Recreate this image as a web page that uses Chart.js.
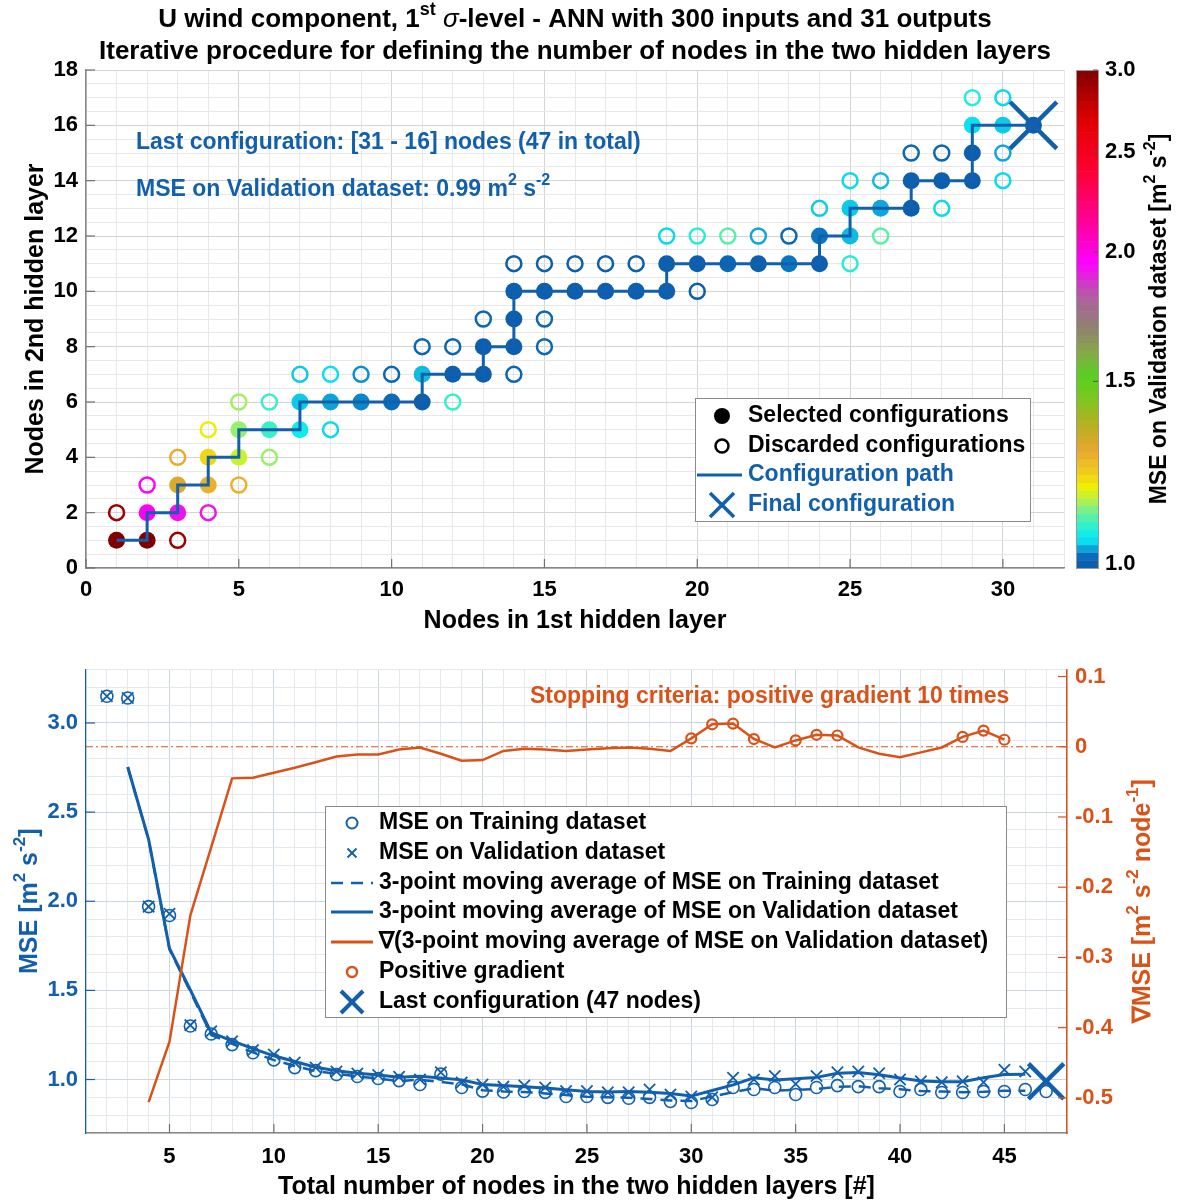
<!DOCTYPE html>
<html>
<head>
<meta charset="utf-8">
<script src="https://cdn.jsdelivr.net/npm/chart.js@4.4.1/dist/chart.umd.min.js"></script>
<style>
  body { margin: 0; background: #fff; }
  canvas { display: block; }
</style>
</head>
<body>
<canvas id="nodesChart" width="1179" height="640"></canvas>
<canvas id="mseChart" width="1179" height="560"></canvas>
<script>
// ---- selected configurations along the path (one per total node count) ----
const totalNodes = [2,3,4,5,6,7,8,9,10,11,12,13,14,15,16,17,18,19,20,21,22,23,24,25,26,27,28,29,30,31,32,33,34,35,36,37,38,39,40,41,42,43,44,45,46,47];
const layer1Sel = [1,2,2,3,3,4,4,5,5,6,7,7,8,9,10,11,11,12,13,13,14,14,14,15,16,17,18,19,19,20,21,22,23,24,24,25,25,26,27,27,28,29,29,29,30,31];
const layer2Sel = [1,1,2,2,3,3,4,4,5,5,5,6,6,6,6,6,7,7,7,8,8,9,10,10,10,10,10,10,11,11,11,11,11,11,12,12,13,13,13,14,14,14,15,16,16,16];
const valMse = [3.15,3.14,1.97,1.93,1.305,1.27,1.215,1.165,1.14,1.095,1.067,1.045,1.034,1.025,1.015,1.0,1.04,0.983,0.972,0.96,0.966,0.955,0.935,0.935,0.928,0.928,0.944,0.916,0.905,0.90,1.01,1.0,1.02,0.975,1.02,1.04,1.045,1.035,1.0,0.99,0.985,0.99,0.985,1.055,1.045,0.99];
const trainMse = [3.15,3.14,1.97,1.92,1.30,1.255,1.196,1.15,1.11,1.067,1.05,1.028,1.017,1.006,0.994,0.972,1.03,0.955,0.935,0.93,0.933,0.928,0.905,0.905,0.90,0.895,0.90,0.877,0.871,0.888,0.955,0.944,0.955,0.916,0.955,0.966,0.96,0.96,0.933,0.944,0.927,0.927,0.933,0.933,0.944,0.933];

// ---- 3-point moving averages and their gradient ----
const maNodes = [3,4,5,6,7,8,9,10,11,12,13,14,15,16,17,18,19,20,21,22,23,24,25,26,27,28,29,30,31,32,33,34,35,36,37,38,39,40,41,42,43,44,45,46];
const trainMseMa = [2.753,2.343,1.730,1.492,1.250,1.200,1.152,1.109,1.076,1.048,1.032,1.017,1.006,0.991,0.999,0.986,0.973,0.940,0.933,0.930,0.922,0.913,0.903,0.900,0.898,0.891,0.883,0.879,0.905,0.929,0.951,0.938,0.942,0.946,0.960,0.962,0.951,0.946,0.935,0.933,0.929,0.931,0.937,0.937];
const valMseMa = [2.753,2.347,1.735,1.502,1.263,1.217,1.173,1.133,1.101,1.069,1.049,1.035,1.025,1.013,1.018,1.008,0.998,0.972,0.966,0.960,0.952,0.942,0.933,0.930,0.933,0.929,0.922,0.907,0.938,0.970,1.010,0.998,1.005,1.012,1.035,1.040,1.027,1.008,0.992,0.988,0.987,1.010,1.028,1.030];
const gradNodes = [4,5,6,7,8,9,10,11,12,13,14,15,16,17,18,19,20,21,22,23,24,25,26,27,28,29,30,31,32,33,34,35,36,37,38,39,40,41,42,43,44,45];
const valMseGrad = [-0.506,-0.42,-0.24,-0.143,-0.045,-0.044,-0.037,-0.030,-0.022,-0.014,-0.011,-0.011,-0.004,-0.001,-0.010,-0.020,-0.019,-0.006,-0.003,-0.004,-0.006,-0.004,-0.002,-0.001,-0.003,-0.006,0.012,0.032,0.033,0.011,-0.001,0.009,0.017,0.016,-0.001,-0.010,-0.015,-0.008,-0.001,0.014,0.023,0.010];

// ---- discarded configurations ----
const discLayer1 = [1,3,2,4,3,5,4,6,5,6,8,7,8,9,10,11,12,13,15,15,14,12,14,15,16,17,18,19,20,20,21,22,23,26,25,24,25,26,28,27,28,30,30,29,30];
const discLayer2 = [2,1,3,2,4,3,5,4,6,6,5,7,7,7,7,8,8,9,9,8,7,6,11,11,11,11,11,12,12,10,12,12,12,12,11,13,14,14,13,15,15,15,14,17,17];
const discMse = [2.9,2.9,1.95,1.92,1.28,1.27,1.19,1.14,1.145,1.09,1.05,1.045,1.055,1.028,1.01,1.01,1.01,1.01,1.01,1.01,1.01,1.09,1.0,1.0,1.0,1.0,1.0,1.05,1.08,1.0,1.11,1.035,1.01,1.11,1.08,1.045,1.05,1.04,1.05,1.01,1.01,1.035,1.05,1.08,1.05];

// ---- tick labels ----
const topXTicks = [0,5,10,15,20,25,30];
const topYTicks = [0,2,4,6,8,10,12,14,16,18];
const cbTicks = [1.0,1.5,2.0,2.5,3.0];
const nodesTicks = [5,10,15,20,25,30,35,40,45];
const mseTicks = [1.0,1.5,2.0,2.5,3.0];
const gradTicks = [-0.5,-0.4,-0.3,-0.2,-0.1,0,0.1];

const BLUE = '#1260ad';
const ORANGE = '#d95319';
const FONT = '"Liberation Sans", Arial, Helvetica, sans-serif';

Chart.defaults.font.family = FONT;
Chart.defaults.font.weight = 'bold';
Chart.defaults.color = '#000';

// colormap of the MSE colour scale (position on a log axis from 1 to 3)
const cmapStops = [
  [0.000, '#0b5fae'], [0.015, '#0a6cba'], [0.022, '#0a84c8'], [0.030, '#0fa0d6'],
  [0.037, '#10c0e4'], [0.045, '#08dcee'], [0.060, '#10ecec'], [0.080, '#38f0c8'],
  [0.100, '#60f0a0'], [0.125, '#a8f058'], [0.155, '#f0f000'], [0.190, '#f0c820'],
  [0.230, '#e8a830'], [0.280, '#b8b020'], [0.340, '#78c820'], [0.380, '#58d020'],
  [0.430, '#88a848'], [0.480, '#908070'], [0.540, '#b060a0'], [0.610, '#ff00ff'],
  [0.700, '#ff0090'], [0.800, '#ff0030'], [0.900, '#e00000'], [1.000, '#800000']
];
function hexRgb(h) { const n = parseInt(h.slice(1), 16); return [n >> 16, (n >> 8) & 255, n & 255]; }
function mseColor(v) {
  const f = Math.min(1, Math.max(0, Math.log(v) / Math.log(3)));
  for (let i = 1; i < cmapStops.length; i++) {
    if (f <= cmapStops[i][0]) {
      const [f0, c0] = cmapStops[i - 1];
      const [f1, c1] = cmapStops[i];
      const t = (f - f0) / (f1 - f0);
      const a = hexRgb(c0), b = hexRgb(c1);
      return 'rgb(' + a.map((x, k) => Math.round(x + (b[k] - x) * t)).join(',') + ')';
    }
  }
  return cmapStops[cmapStops.length - 1][1];
}

function gridTicks(lo, hi, step) {
  const out = [];
  const n = Math.round((hi - lo) / step);
  for (let i = 0; i <= n; i++) out.push({ value: +(lo + i * step).toFixed(4) });
  return out;
}
const isMajor = (v, list) => list.some(m => Math.abs(m - v) < 1e-6);
const sup = t => ({ t, sup: true });

// text with superscripts / italics, optionally rotated
function drawRich(ctx, segs, x, y, o) {
  const size = o.size;
  const parts = segs.map(s => typeof s === 'string' ? { t: s } : s);
  const fontOf = s => (s.it ? 'italic ' : '') + (s.w || 'bold') + ' ' + (s.sup ? Math.round(size * 0.68) : size) + 'px ' + FONT;
  let total = 0;
  parts.forEach(s => { ctx.font = fontOf(s); total += ctx.measureText(s.t).width; });
  ctx.save();
  ctx.translate(x, y);
  if (o.rot) ctx.rotate(o.rot);
  ctx.fillStyle = o.color || '#000';
  ctx.textBaseline = 'middle';
  ctx.textAlign = 'left';
  let cx = o.align === 'center' ? -total / 2 : o.align === 'right' ? -total : 0;
  parts.forEach(s => {
    ctx.font = fontOf(s);
    ctx.fillText(s.t, cx, s.sup ? -size * 0.4 : 0);
    cx += ctx.measureText(s.t).width;
  });
  ctx.restore();
}

function seg(ctx, x1, y1, x2, y2) { ctx.beginPath(); ctx.moveTo(x1, y1); ctx.lineTo(x2, y2); ctx.stroke(); }
function circle(ctx, x, y, r, color, lw, fill) {
  ctx.beginPath(); ctx.arc(x, y, r, 0, Math.PI * 2);
  if (fill) { ctx.fillStyle = color; ctx.fill(); } else { ctx.strokeStyle = color; ctx.lineWidth = lw; ctx.stroke(); }
}
function cross(ctx, x, y, h, color, lw) {
  ctx.strokeStyle = color; ctx.lineWidth = lw;
  seg(ctx, x - h, y - h, x + h, y + h); seg(ctx, x - h, y + h, x + h, y - h);
}
function legendBox(ctx, x, y, w, h) {
  ctx.fillStyle = '#fff'; ctx.fillRect(x, y, w, h);
  ctx.strokeStyle = '#8a8a8a'; ctx.lineWidth = 1; ctx.strokeRect(x + 0.5, y + 0.5, w, h);
}

// ================= top chart: nodes in both hidden layers =================
const selPoints = layer1Sel.map((x, i) => ({ x, y: layer2Sel[i] }));
const discPoints = discLayer1.map((x, i) => ({ x, y: discLayer2[i] }));
const lastSel = selPoints[selPoints.length - 1];
const lastTotal = totalNodes[totalNodes.length - 1];
const lastVal = valMse[valMse.length - 1];

const nodesDecor = {
  id: 'nodesDecor',
  afterDraw(chart) {
    const ctx = chart.ctx, a = chart.chartArea;
    const sx = chart.scales.x, sy = chart.scales.y, cb = chart.scales.cb;
    ctx.save();
    // inward tick marks
    ctx.strokeStyle = '#707070'; ctx.lineWidth = 1.2;
    topYTicks.forEach(v => { const p = sy.getPixelForValue(v); seg(ctx, a.left, p, a.left + 9, p); });
    topXTicks.forEach(v => { const p = sx.getPixelForValue(v); seg(ctx, p, a.bottom, p, a.bottom - 9); });

    // colour bar
    const cx0 = a.right + 12, cw = 22, n = 64;
    const lo = Math.log(cb.min), hi = Math.log(cb.max);
    for (let i = 0; i < n; i++) {
      const y1 = cb.getPixelForValue(Math.exp(lo + (hi - lo) * i / n));
      const y2 = cb.getPixelForValue(Math.exp(lo + (hi - lo) * (i + 1) / n));
      ctx.fillStyle = mseColor(Math.exp(lo + (hi - lo) * (i + 0.5) / n));
      ctx.fillRect(cx0, y2, cw, y1 - y2 + 0.6);
    }
    ctx.strokeStyle = '#999'; ctx.lineWidth = 1;
    ctx.strokeRect(cx0 + 0.5, a.top + 0.5, cw, a.bottom - a.top);
    ctx.strokeStyle = '#555';
    cbTicks.forEach(v => { const p = cb.getPixelForValue(v); seg(ctx, cx0 + cw - 5, p, cx0 + cw, p); });

    // titles
    const mid = (a.left + a.right) / 2;
    drawRich(ctx, ['U wind component, 1', sup('st'), ' ', { t: 'σ', it: true, w: 'normal' }, '-level - ANN with 300 inputs and 31 outputs'], mid, 20, { size: 26, align: 'center' });
    drawRich(ctx, ['Iterative procedure for defining the number of nodes in the two hidden layers'], mid, 52, { size: 26, align: 'center' });
    drawRich(ctx, ['Nodes in 1st hidden layer'], mid, 621, { size: 25, align: 'center' });
    drawRich(ctx, ['Nodes in 2nd hidden layer'], 36, (a.top + a.bottom) / 2, { size: 25, align: 'center', rot: -Math.PI / 2 });
    drawRich(ctx, ['MSE on Validation dataset [m', sup('2'), ' s', sup('-2'), ']'], 1160, (a.top + a.bottom) / 2, { size: 23, align: 'center', rot: -Math.PI / 2 });

    // annotations
    drawRich(ctx, ['Last configuration: [' + lastSel.x + ' - ' + lastSel.y + '] nodes (' + lastTotal + ' in total)'], 136, 143, { size: 23, color: BLUE });
    drawRich(ctx, ['MSE on Validation dataset: ' + lastVal.toFixed(2) + ' m', sup('2'), ' s', sup('-2')], 136, 190, { size: 23, color: BLUE });

    // legend
    legendBox(ctx, 695, 398, 335, 123);
    const sxl = 722, txl = 748;
    circle(ctx, sxl, 416, 8, '#000', 0, true);
    circle(ctx, sxl, 446, 6.5, '#000', 2.5, false);
    ctx.strokeStyle = BLUE; ctx.lineWidth = 3; seg(ctx, 697, 475, 742, 475);
    cross(ctx, sxl, 505, 12, BLUE, 3.5);
    drawRich(ctx, ['Selected configurations'], txl, 416, { size: 23 });
    drawRich(ctx, ['Discarded configurations'], txl, 446, { size: 23 });
    drawRich(ctx, ['Configuration path'], txl, 475, { size: 23, color: BLUE });
    drawRich(ctx, ['Final configuration'], txl, 505, { size: 23, color: BLUE });
    ctx.restore();
  }
};

const tickFont = { size: 22, weight: 'bold', family: FONT };

new Chart(document.getElementById('nodesChart'), {
  type: 'scatter',
  data: {
    datasets: [
      { label: 'Final configuration', data: [lastSel], pointStyle: 'crossRot', pointRadius: 33,
        pointBorderColor: BLUE, pointBorderWidth: 4.5, pointBackgroundColor: 'transparent' },
      { label: 'Configuration path', data: selPoints, showLine: true, borderColor: BLUE, borderWidth: 3,
        pointRadius: 0, tension: 0, fill: false },
      { label: 'Selected configurations', data: selPoints, pointRadius: 8.5, pointBorderWidth: 0,
        pointBackgroundColor: valMse.map(mseColor) },
      { label: 'Discarded configurations', data: discPoints, pointRadius: 7.5, pointBorderWidth: 2.5,
        pointBackgroundColor: 'transparent', pointBorderColor: discMse.map(mseColor) }
    ]
  },
  options: {
    responsive: false,
    animation: false,
    events: [],
    layout: { padding: { top: 70, left: 0, right: 0, bottom: 0 } },
    plugins: { legend: { display: false }, tooltip: { enabled: false } },
    scales: {
      x: {
        type: 'linear', min: 0, max: 32,
        afterBuildTicks: s => { s.ticks = gridTicks(0, 32, 1); },
        afterFit: s => { s.height = 72; },
        ticks: { autoSkip: false, maxRotation: 0, padding: 9, font: tickFont, color: '#000',
          callback: v => isMajor(v, topXTicks) ? String(v) : '' },
        grid: { drawTicks: false, color: c => isMajor(c.tick.value, topXTicks) ? '#d4d4d4' : '#e8e8e8' },
        border: { color: '#888', width: 1.5 }
      },
      y: {
        type: 'linear', min: 0, max: 18,
        afterBuildTicks: s => { s.ticks = gridTicks(0, 18, 0.5); },
        afterFit: s => { s.width = 86; },
        ticks: { autoSkip: false, padding: 8, font: tickFont, color: '#000',
          callback: v => isMajor(v, topYTicks) ? String(v) : '' },
        grid: { drawTicks: false, color: c => isMajor(c.tick.value, topYTicks) ? '#d4d4d4' : '#e8e8e8' },
        border: { color: '#888', width: 1.5 }
      },
      cb: {
        type: 'logarithmic', position: 'right', min: 0.99, max: 3,
        afterBuildTicks: s => { s.ticks = cbTicks.map(v => ({ value: v })); },
        afterFit: s => { s.width = 115; },
        ticks: { autoSkip: false, padding: 41, font: tickFont, color: '#000', callback: v => Number(v).toFixed(1) },
        grid: { display: false, drawTicks: false },
        border: { display: false }
      }
    }
  },
  plugins: [nodesDecor]
});

// ================= bottom chart: MSE against total nodes =================
const trainPts = totalNodes.map((n, i) => ({ x: n, y: trainMse[i] }));
const valPts = totalNodes.map((n, i) => ({ x: n, y: valMse[i] }));
const trainMaPts = maNodes.map((n, i) => ({ x: n, y: trainMseMa[i] }));
const valMaPts = maNodes.map((n, i) => ({ x: n, y: valMseMa[i] }));
const gradPts = gradNodes.map((n, i) => ({ x: n, y: valMseGrad[i] }));
const posPts = gradPts.filter(p => p.y > 0);
const lastValPt = valPts[valPts.length - 1];

const mseDecor = {
  id: 'mseDecor',
  afterDraw(chart) {
    const ctx = chart.ctx, a = chart.chartArea;
    const sx = chart.scales.x, sy = chart.scales.y, sg = chart.scales.y2;
    ctx.save();
    ctx.lineWidth = 1.2;
    ctx.strokeStyle = BLUE;
    mseTicks.forEach(v => { const p = sy.getPixelForValue(v); seg(ctx, a.left, p, a.left + 9, p); });
    ctx.strokeStyle = ORANGE;
    gradTicks.forEach(v => { const p = sg.getPixelForValue(v); seg(ctx, a.right - 9, p, a.right, p); });
    ctx.strokeStyle = '#707070';
    nodesTicks.forEach(v => { const p = sx.getPixelForValue(v); seg(ctx, p, a.bottom, p, a.bottom - 9); });

    const midY = (a.top + a.bottom) / 2;
    drawRich(ctx, ['MSE [m', sup('2'), ' s', sup('-2'), ']'], 30, midY, { size: 25, align: 'center', rot: -Math.PI / 2, color: BLUE });
    drawRich(ctx, ['∇MSE [m', sup('2'), ' s', sup('-2'), ' node', sup('-1'), ']'], 1143, midY, { size: 25, align: 'center', rot: -Math.PI / 2, color: ORANGE });
    drawRich(ctx, ['Total number of nodes in the two hidden layers [#]'], (a.left + a.right) / 2, 547, { size: 25, align: 'center' });
    drawRich(ctx, ['Stopping criteria: positive gradient ' + posPts.length + ' times'], 530, 57, { size: 23, color: ORANGE });

    // legend
    legendBox(ctx, 325, 166, 681, 211);
    const lx = 352, tx = 379;
    const rows = [183, 213, 243, 272, 302, 332, 362];
    circle(ctx, lx, rows[0], 5.5, BLUE, 2, false);
    cross(ctx, lx, rows[1], 4.5, BLUE, 2);
    ctx.strokeStyle = BLUE; ctx.lineWidth = 2.5; ctx.setLineDash([12, 8]); seg(ctx, 331, rows[2], 373, rows[2]); ctx.setLineDash([]);
    ctx.lineWidth = 3; seg(ctx, 331, rows[3], 373, rows[3]);
    ctx.strokeStyle = ORANGE; seg(ctx, 331, rows[4], 373, rows[4]);
    circle(ctx, lx, rows[5], 5, ORANGE, 2.5, false);
    cross(ctx, lx, rows[6], 11, BLUE, 4);
    const labels = ['MSE on Training dataset', 'MSE on Validation dataset',
      '3-point moving average of MSE on Training dataset', '3-point moving average of MSE on Validation dataset',
      '∇(3-point moving average of MSE on Validation dataset)', 'Positive gradient',
      'Last configuration (' + lastTotal + ' nodes)'];
    labels.forEach((t, i) => drawRich(ctx, [t], tx, rows[i], { size: 23 }));
    ctx.restore();
  }
};

new Chart(document.getElementById('mseChart'), {
  type: 'scatter',
  data: {
    datasets: [
      { label: 'Last configuration', data: [lastValPt], yAxisID: 'y', pointStyle: 'crossRot', pointRadius: 25,
        pointBorderColor: BLUE, pointBorderWidth: 4.5, pointBackgroundColor: 'transparent', clip: false },
      { label: 'Positive gradient', data: posPts, yAxisID: 'y2', pointRadius: 5, pointBorderWidth: 2.2,
        pointBorderColor: ORANGE, pointBackgroundColor: 'transparent' },
      { label: 'Gradient', data: gradPts, yAxisID: 'y2', showLine: true, borderColor: ORANGE, borderWidth: 2.5,
        pointRadius: 0, tension: 0 },
      { label: 'Zero gradient', data: [{ x: 1, y: 0 }, { x: 48, y: 0 }], yAxisID: 'y2', showLine: true,
        borderColor: ORANGE, borderWidth: 1, borderDash: [7, 3, 2, 3], pointRadius: 0 },
      { label: 'MA validation', data: valMaPts, yAxisID: 'y', showLine: true, borderColor: BLUE, borderWidth: 3,
        pointRadius: 0, tension: 0 },
      { label: 'MA training', data: trainMaPts, yAxisID: 'y', showLine: true, borderColor: BLUE, borderWidth: 2.5,
        borderDash: [12, 8], pointRadius: 0, tension: 0 },
      { label: 'Validation', data: valPts, yAxisID: 'y', pointStyle: 'crossRot', pointRadius: 8,
        pointBorderColor: BLUE, pointBorderWidth: 1.8, pointBackgroundColor: 'transparent' },
      { label: 'Training', data: trainPts, yAxisID: 'y', pointRadius: 6, pointBorderColor: BLUE,
        pointBorderWidth: 1.6, pointBackgroundColor: 'transparent' }
    ]
  },
  options: {
    responsive: false,
    animation: false,
    events: [],
    layout: { padding: { top: 27, left: 0, right: 0, bottom: 0 } },
    plugins: { legend: { display: false }, tooltip: { enabled: false } },
    scales: {
      x: {
        type: 'linear', min: 1, max: 48,
        afterBuildTicks: s => { s.ticks = gridTicks(1, 48, 1); },
        afterFit: s => { s.height = 67; },
        ticks: { autoSkip: false, maxRotation: 0, padding: 11, font: tickFont, color: '#000',
          callback: v => isMajor(v, nodesTicks) ? String(v) : '' },
        grid: { drawTicks: false, color: c => isMajor(c.tick.value, nodesTicks) ? '#cdd6e0' : '#e4e9ef' },
        border: { color: '#888', width: 1.5 }
      },
      y: {
        type: 'linear', position: 'left', min: 0.7, max: 3.3,
        afterBuildTicks: s => { s.ticks = gridTicks(0.7, 3.3, 0.1); },
        afterFit: s => { s.width = 86; },
        ticks: { autoSkip: false, padding: 8, font: tickFont, color: BLUE,
          callback: v => isMajor(v, mseTicks) ? Number(v).toFixed(1) : '' },
        grid: { drawTicks: false, color: c => isMajor(c.tick.value, mseTicks) ? '#cdd6e0' : '#e4e9ef' },
        border: { color: BLUE, width: 1.2 }
      },
      y2: {
        type: 'linear', position: 'right', min: -0.55, max: 0.11,
        afterBuildTicks: s => { s.ticks = gradTicks.map(v => ({ value: v })); },
        afterFit: s => { s.width = 112; },
        ticks: { autoSkip: false, padding: 8, font: tickFont, color: ORANGE,
          callback: v => v === 0 ? '0' : Number(v).toFixed(1) },
        grid: { display: false, drawTicks: false },
        border: { color: ORANGE, width: 1.5 }
      }
    }
  },
  plugins: [mseDecor]
});
</script>
</body>
</html>
